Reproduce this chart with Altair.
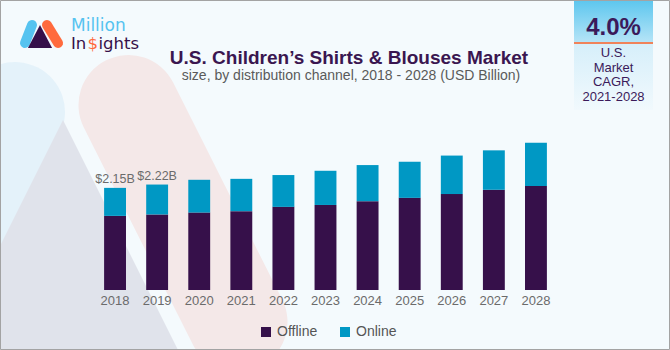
import altair as alt
import pandas as pd

# ---- data ----
years = ["2018", "2019", "2020", "2021", "2022", "2023", "2024", "2025", "2026", "2027", "2028"]
offline = [1.56, 1.59, 1.63, 1.66, 1.75, 1.79, 1.87, 1.94, 2.02, 2.11, 2.19]
online = [0.59, 0.63, 0.69, 0.68, 0.67, 0.72, 0.76, 0.76, 0.81, 0.83, 0.91]
channels = ["Offline", "Online"]
colors = ["#36104A", "#0098C4"]
label_years = ["2018", "2019"]
label_texts = ["$2.15B", "$2.22B"]

rows = []
for i, y in enumerate(years):
    rows.append({"year": y, "channel": "Offline", "value": offline[i], "ord": 0})
    rows.append({"year": y, "channel": "Online", "value": online[i], "ord": 1})
df = pd.DataFrame(rows)

lab = pd.DataFrame({
    "year": label_years,
    "total": [offline[years.index(y)] + online[years.index(y)] for y in label_years],
    "label": label_texts,
})

one = pd.DataFrame({"k": [0]})
FONT = "Liberation Sans"

xaxis = alt.Axis(title=None, domain=False, ticks=False, labelAngle=0, labelPadding=4,
                 labelFont=FONT, labelFontSize=13, labelColor="#6B6B6B", zindex=1)
xs = alt.Scale(domain=years, range=[94, 557], paddingInner=0.48, paddingOuter=0.24)
ys = alt.Scale(domain=[0, 6.105], nice=False, zero=True)

# ---- decorative background ----
blue_band = alt.Chart(one).mark_rule(strokeWidth=100, strokeCap="round", color="#E4F2FA").encode(
    x=alt.value(15), y=alt.value(112), x2=alt.value(-110), y2=alt.value(362))
tri = alt.Chart(one).mark_point(shape="M0,-1L1,1L-1,1Z", size=90000, filled=True,
                                 fill="#E0E3EB", strokeWidth=0, opacity=1).encode(
    x=alt.value(63), y=alt.value(270))
pink_band = alt.Chart(one).mark_rule(strokeWidth=100, strokeCap="round", color="#F4E8E8").encode(
    x=alt.value(128.5), y=alt.value(105), x2=alt.value(237.5), y2=alt.value(322))

# ---- bars ----
bars = alt.Chart(df).mark_bar().encode(
    x=alt.X("year:N", scale=xs, sort=years, axis=xaxis),
    y=alt.Y("value:Q", scale=ys, stack="zero", axis=None),
    color=alt.Color("channel:N", scale=alt.Scale(domain=channels, range=colors),
                    legend=alt.Legend(title=None, orient="none", direction="horizontal",
                                      legendX=259, legendY=325, symbolType="square",
                                      symbolSize=100, symbolStrokeWidth=0, labelFont=FONT,
                                      labelFontSize=14, labelColor="#555555", columnPadding=20,
                                      labelOffset=4, padding=0)),
    order=alt.Order("ord:Q"),
)

vlabels = alt.Chart(lab).mark_text(baseline="alphabetic", dy=-5, font=FONT, fontSize=12.5,
                                    color="#6B6B6B").encode(
    x=alt.X("year:N", scale=xs, sort=years, axis=xaxis),
    y=alt.Y("total:Q", scale=ys, axis=None), text="label:N")

# ---- titles ----
title = alt.Chart(one).mark_text(text="U.S. Children’s Shirts & Blouses Market", font=FONT,
                                  fontSize=19, fontWeight="bold", color="#3A1650",
                                  align="center", baseline="alphabetic").encode(
    x=alt.value(349), y=alt.value(64))
subtitle = alt.Chart(one).mark_text(text="size, by distribution channel, 2018 - 2028 (USD Billion)",
                                     font=FONT, fontSize=14, color="#5A5A5A",
                                     align="center", baseline="alphabetic").encode(
    x=alt.value(351), y=alt.value(80))

# ---- logo ----
lg_blue = alt.Chart(one).mark_rule(strokeWidth=10, strokeCap="round", color="#56C3F0").encode(
    x=alt.value(32), y=alt.value(25), x2=alt.value(25), y2=alt.value(43))
lg_orange = alt.Chart(one).mark_rule(strokeWidth=10, strokeCap="round", color="#FF6A3D").encode(
    x=alt.value(47), y=alt.value(25), x2=alt.value(58), y2=alt.value(43))
lg_tri = alt.Chart(one).mark_point(shape="M0,-1L1.05,1L-1.05,1Z", size=529, filled=True,
                                    fill="#36104A", strokeWidth=0, opacity=1).encode(
    x=alt.value(40), y=alt.value(36.5))
lg_t1 = alt.Chart(one).mark_text(text="Million", font="DejaVu Sans", fontSize=17, color="#56C3F0",
                                  align="left", baseline="alphabetic").encode(
    x=alt.value(71), y=alt.value(31))
lg_t2 = alt.Chart(one).mark_text(text="In", font="DejaVu Sans", fontSize=16.5, color="#36104A",
                                  align="left", baseline="alphabetic").encode(
    x=alt.value(71), y=alt.value(49))
lg_t3 = alt.Chart(one).mark_text(text="$", font="DejaVu Sans", fontSize=16.5, color="#FF6A3D",
                                  align="left", baseline="alphabetic").encode(
    x=alt.value(87.5), y=alt.value(49))
lg_t4 = alt.Chart(one).mark_text(text="ights", font="DejaVu Sans", fontSize=16.5, color="#36104A",
                                  align="left", baseline="alphabetic").encode(
    x=alt.value(98.5), y=alt.value(49))

# ---- CAGR box ----
box_top = alt.Chart(one).mark_rect(color=alt.LinearGradient(
    gradient="linear", x1=0, x2=0, y1=0, y2=1,
    stops=[alt.GradientStop(color="#5CC6EE", offset=0), alt.GradientStop(color="#B5E4F7", offset=1)])
).encode(x=alt.value(574), x2=alt.value(653), y=alt.value(0), y2=alt.value(42))
box_line = alt.Chart(one).mark_rule(strokeWidth=2, color="#F0835A").encode(
    x=alt.value(574), x2=alt.value(653), y=alt.value(43), y2=alt.value(43))
box_bot = alt.Chart(one).mark_rect(color=alt.LinearGradient(
    gradient="linear", x1=0, x2=0, y1=0, y2=1,
    stops=[alt.GradientStop(color="#D6EFFA", offset=0), alt.GradientStop(color="#F1F9FD", offset=1)])
).encode(x=alt.value(574), x2=alt.value(653), y=alt.value(44), y2=alt.value(110))
cagr = alt.Chart(one).mark_text(text="4.0%", font=FONT, fontSize=24, fontWeight="bold",
                                 color="#3B1A5A", align="center", baseline="alphabetic").encode(
    x=alt.value(613.5), y=alt.value(35))
box_lines = ["U.S.", "Market", "CAGR,", "2021-2028"]
box_txt = alt.Chart(pd.DataFrame({"t": box_lines, "i": [0, 1, 2, 3]})).transform_calculate(
    py="57 + datum.i * 14.7").mark_text(font=FONT, fontSize=13, color="#3B1A5A", align="center",
                                         baseline="alphabetic").encode(
    x=alt.value(613.5), y=alt.Y("py:Q", scale=None, axis=None), text="t:N")

border = alt.Chart(one).mark_rect(fill=None, stroke="#A3A3A3", strokeWidth=1).encode(
    x=alt.value(0.5), x2=alt.value(669.5), y=alt.value(0.5), y2=alt.value(349.5))

chart = alt.layer(
    blue_band, tri, pink_band, bars, vlabels, title, subtitle,
    lg_blue, lg_orange, lg_tri, lg_t1, lg_t2, lg_t3, lg_t4,
    box_top, box_line, box_bot, cagr, box_txt, border,
).properties(
    width=670, height=290, autosize="none",
    padding={"left": 0, "top": 0, "right": 0, "bottom": 60},
    background="#F4FAFD",
).configure_view(stroke=None)

chart.save("out.html", embed_options={"renderer": "svg", "actions": False})
